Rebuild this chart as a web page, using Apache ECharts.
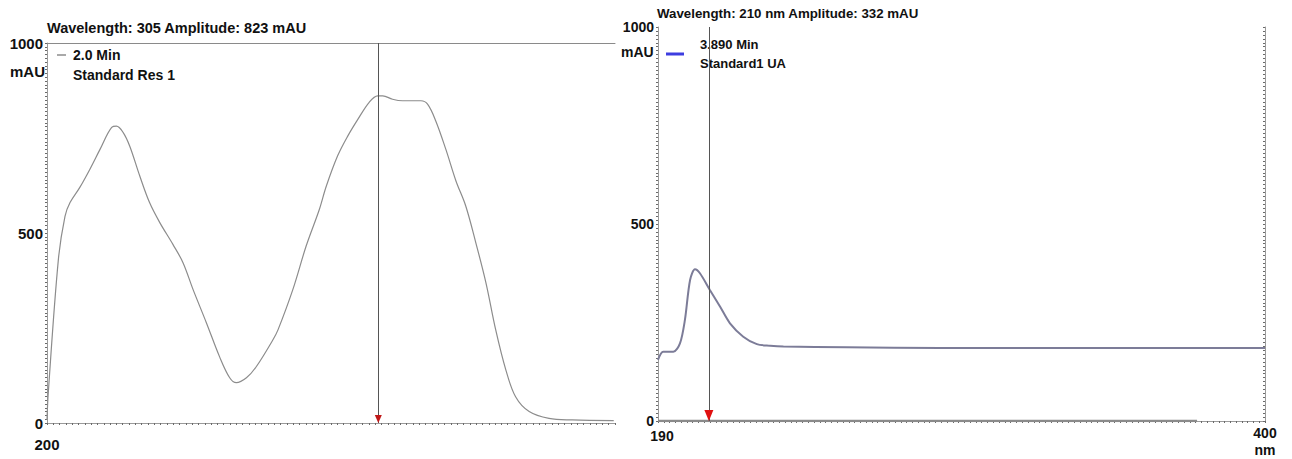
<!DOCTYPE html>
<html><head><meta charset="utf-8">
<script src="https://cdn.jsdelivr.net/npm/echarts@6/dist/echarts.min.js"></script>
<style>html,body{margin:0;padding:0;background:#fff}#c{width:1292px;height:459px}</style>
</head><body><div id="c"></div>
<script>
// Left spectrum (Standard Res 1, 2.0 Min)
const leftNm  = [200.0,200.4,203.6,205.7,207.3,210.4,213.6,216.8,220.5,222.0,224.1,226.2,229.4,232.5,235.7,239.9,243.1,246.3,250.5,254.7,257.9,260.0,263.2,266.3,271.6,273.2,277.9,282.1,286.3,288.5,292.1,295.3,298.5,302.1,304.8,306.4,309.5,312.7,318.5,320.6,323.2,326.4,329.6,332.7,335.9,339.1,342.2,345.4,348.5,352.8,359.1,366.4,379.6];
const leftAbs = [8,79,430,544,580,620,668,720,778,781,765,729,650,580,528,470,422,351,264,174,119,106,119,148,219,245,351,465,562,623,703,755,799,844,861,861,852,848,848,839,795,720,637,571,474,369,245,140,69,30,12,8,6];
// Right spectrum (Standard1 UA, 3.890 Min)
const rightNm  = [190.0,191.8,195.3,197.6,199.3,201.1,202.8,204.5,208.0,211.5,214.9,219.5,224.2,228.8,233.4,255.3,287.6,400.0];
const rightAbs = [155,176,176,197,256,358,385,375,332,290,248,214,195,191,189,187,185,185];
const baseNm  = [190, 376.5];
const baseAbs = [0, 0];
const leftCursor = 305.0, rightCursor = 207.6;
const leftXTicks = [200];
const rightXTicks = [190, 400];
const yTicks = [0, 500, 1000];

const pairs = (xs, ys) => xs.map((x, i) => [x, ys[i]]);
const FONT = '"Liberation Sans", Arial, sans-serif';
const lbl = (size) => ({fontFamily: FONT, fontWeight: 'bold', fontSize: size, color: '#111'});

const chart = echarts.init(document.getElementById('c'), null, {renderer: 'svg'});
const tickColor = '#6a6a6a';
const yAxisBase = (gi, size, pos) => ({
  type: 'value', gridIndex: gi, min: 0, max: 1000, interval: 10, position: pos,
  axisLine: {show: true, lineStyle: {color: '#9a9a9a', width: 1}},
  axisTick: {show: true, length: 2, inside: pos === 'right', lineStyle: {color: tickColor}},
  splitLine: {show: false},
  axisLabel: pos === 'right' ? {show: false} : Object.assign(lbl(size), {margin: 4, formatter: v => yTicks.includes(v) ? String(v) : ''})
});

chart.setOption({
  animation: false,
  title: [
    {text: 'Wavelength: 305 Amplitude: 823 mAU', left: 47, top: 20, padding: 0, textStyle: lbl(14.5)},
    {text: 'Wavelength: 210 nm Amplitude: 332 mAU', left: 657, top: 7, padding: 0, textStyle: lbl(13.3)}
  ],
  legend: [
    {data: [{name: '2.0 Min'}], left: 57, top: 48, padding: 0, icon: 'rect', itemWidth: 9, itemHeight: 1.5, itemGap: 0,
     textStyle: Object.assign(lbl(14), {padding: [0,0,0,2]})},
    {data: [{name: '3.890 Min', itemStyle: {color: '#3d3de0'}}], left: 666, top: 35, padding: 0, icon: 'rect', itemWidth: 18, itemHeight: 3,
     formatter: n => n + '\nStandard1 UA', textStyle: Object.assign(lbl(13), {lineHeight: 19, padding: [0,0,0,11]})}
  ],
  graphic: [
    {type: 'text', left: 73, top: 68, style: {text: 'Standard Res 1', font: 'bold 14px ' + FONT, fill: '#111'}},
    {type: 'text', left: 10, top: 64, style: {text: 'mAU', font: 'bold 15px ' + FONT, fill: '#111'}},
    {type: 'text', left: 621, top: 45, style: {text: 'mAU', font: 'bold 14px ' + FONT, fill: '#111'}}
  ],
  grid: [
    {left: 47, top: 43, width: 568, height: 380},
    {left: 658, top: 27, width: 607, height: 394}
  ],
  xAxis: [
    {type: 'value', gridIndex: 0, min: 200, max: 380, interval: 2,
     axisLine: {lineStyle: {color: '#9a9a9a'}},
     axisTick: {show: true, length: 2, lineStyle: {color: tickColor}},
     splitLine: {show: false},
     axisLabel: Object.assign(lbl(15), {margin: 14, formatter: v => leftXTicks.includes(v) ? String(v) : ''})},
    {type: 'value', gridIndex: 0, position: 'top', min: 200, max: 380,
     axisLine: {lineStyle: {color: '#8a8a8a'}}, axisTick: {show: false}, axisLabel: {show: false}, splitLine: {show: false}},
    {type: 'value', gridIndex: 1, min: 190, max: 400, interval: 2,
     axisLine: {lineStyle: {color: '#9a9a9a'}},
     axisTick: {show: true, length: 2, lineStyle: {color: tickColor}},
     splitLine: {show: false},
     axisLabel: Object.assign(lbl(14), {margin: 3, lineHeight: 17,
       formatter: v => v === 190 ? '{a|190}' : (v === 400 ? '400\nnm' : ''),
       rich: {a: Object.assign(lbl(14), {padding: [6, 0, 0, 8]})}})},
    {type: 'value', gridIndex: 1, position: 'top', min: 190, max: 400,
     axisLine: {lineStyle: {color: '#9a9a9a'}}, axisTick: {show: false}, axisLabel: {show: false}, splitLine: {show: false}}
  ],
  yAxis: [
    yAxisBase(0, 15, 'left'),
    yAxisBase(1, 14, 'left'),
    yAxisBase(1, 14, 'right')
  ],
  series: [
    {name: '2.0 Min', type: 'line', xAxisIndex: 0, yAxisIndex: 0, data: pairs(leftNm, leftAbs),
     showSymbol: false, smooth: 0.35, lineStyle: {color: '#8c8c8c', width: 1.2}, itemStyle: {color: '#8c8c8c'},
     markLine: {silent: true, symbol: ['none', 'none'], label: {show: false}, lineStyle: {color: '#555', width: 1, type: 'solid'},
       data: [[{coord: [leftCursor, 0]}, {coord: [leftCursor, 1000]}]]},
     markPoint: {silent: true, symbol: 'triangle', symbolRotate: 180, symbolSize: [7, 8], symbolOffset: [0, -4], label: {show: false},
       itemStyle: {color: '#c01818'}, data: [{coord: [leftCursor, 0]}]}},
    {name: '3.890 Min', type: 'line', xAxisIndex: 2, yAxisIndex: 1, data: pairs(rightNm, rightAbs),
     showSymbol: false, smooth: 0.3, lineStyle: {color: '#7c7c98', width: 2}, itemStyle: {color: '#7c7c98'},
     markLine: {silent: true, symbol: ['none', 'none'], label: {show: false}, lineStyle: {color: '#555', width: 1, type: 'solid'},
       data: [[{coord: [rightCursor, 0]}, {coord: [rightCursor, 1000]}]]},
     markPoint: {silent: true, symbol: 'triangle', symbolRotate: 180, symbolSize: [9, 11], symbolOffset: [0, -5.5], label: {show: false},
       itemStyle: {color: '#e01010'}, data: [{coord: [rightCursor, 0]}]}},
    {name: 'baseline', type: 'line', xAxisIndex: 2, yAxisIndex: 1, data: pairs(baseNm, baseAbs),
     showSymbol: false, lineStyle: {color: '#8a8a8a', width: 2.5}, z: 1}
  ]
});
</script></body></html>
